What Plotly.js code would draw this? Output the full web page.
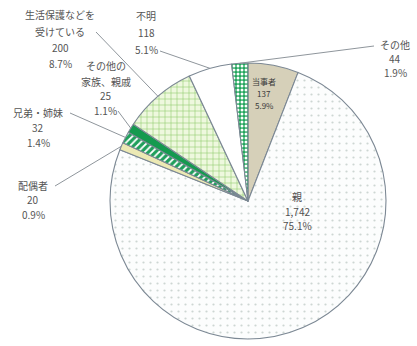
<!DOCTYPE html>
<html>
<head>
<meta charset="utf-8">
<script src="https://cdn.plot.ly/plotly-3.0.1.min.js"></script>
<style>
html,body{margin:0;padding:0;background:#fff;}
#chart{width:417px;height:346px;}
</style>
</head>
<body>
<div id="chart"></div>
<script>
// ---- data (clockwise from 12 o'clock) ----
const categories = ['当事者','親','配偶者','兄弟・姉妹','その他の家族、親戚','生活保護などを受けている','不明','その他'];
const values = [137, 1742, 20, 32, 25, 200, 118, 44];
const valueLabels = ['137', '1,742', '20', '32', '25', '200', '118', '44'];
const pctLabels = ['5.9%', '75.1%', '0.9%', '1.4%', '1.1%', '8.7%', '5.1%', '1.9%'];
const nameLines = [['当事者'], ['親'], ['配偶者'], ['兄弟・姉妹'], ['その他の','家族、親戚'], ['生活保護などを','受けている'], ['不明'], ['その他']];

// ---- styles ----
const W = 417, H = 346;
const CX = 248, CY = 201, R = 138;
const bg = ['#d6d0b9', '#fcfdfd', '#ece9b4', '#1f9f5b', '#159a4f', '#eef8de', '#ffffff', '#22a55c'];
const fg = ['#d6d0b9', '#cdd6d3', '#ece9b4', '#ffffff', '#159a4f', '#8dc96a', '#ffffff', '#ffffff'];
const shapes = ['', '.', '', '/', '', '+', '', '.'];
const psize = [6, 7, 6, 5, 6, 6, 6, 4];
const psolid = [0.3, 0.08, 0.3, 0.35, 0.3, 0.18, 0.3, 0.45];

// label placement (pixels): centre x, first-line y, line spacing, font size, leader start (or null)
const labelPos = [
  {x:264, y:82,  dy:11.5, fs:8,  lead:null, color:'#3a3a3a'},
  {x:297, y:196, dy:15,   fs:10, lead:null, color:'#505050'},
  {x:33,  y:185, dy:14.5, fs:10, lead:[55,186]},
  {x:38,  y:112, dy:15,   fs:10, lead:[70,113]},
  {x:106, y:66,  dy:15,   fs:10, lead:[118,111]},
  {x:60,  y:15,  dy:16,   fs:10, lead:[96,32]},
  {x:146, y:16,  dy:16.5, fs:10, lead:[160,51]},
  {x:395, y:45,  dy:13.5, fs:10, lead:[374,46]}
];

const px = x => x / W;
const py = y => 1 - y / H;

const trace = {
  type: 'pie',
  labels: categories,
  values: values,
  sort: false,
  direction: 'clockwise',
  rotation: 0,
  textinfo: 'none',
  hoverinfo: 'none',
  domain: {x: [px(CX - R), px(CX + R)], y: [py(CY + R), py(CY - R)]},
  marker: {
    colors: bg,
    line: {color: '#7c8894', width: 1.1},
    pattern: {shape: shapes, bgcolor: bg, fgcolor: fg, size: psize, solidity: psolid, fillmode: 'replace'}
  }
};

// angles from data
const total = values.reduce((a, b) => a + b, 0);
let cum = 0;
const annotations = [];
const lines = [];
values.forEach((v, i) => {
  const mid = (cum + v / 2) / total * 2 * Math.PI;
  cum += v;
  const rimX = CX + R * Math.sin(mid);
  const rimY = CY - R * Math.cos(mid);
  const p = labelPos[i];
  const textLines = nameLines[i].concat([valueLabels[i], pctLabels[i]]);
  textLines.forEach((t, k) => {
    annotations.push({
      xref: 'paper', yref: 'paper', x: px(p.x), y: py(p.y + k * p.dy),
      xanchor: 'center', yanchor: 'middle', showarrow: false, text: t,
      font: {family: '"Noto Sans CJK JP", sans-serif', size: p.fs, color: p.color || '#555555'}
    });
  });
  if (p.lead) {
    lines.push({
      type: 'line', xref: 'paper', yref: 'paper', layer: 'above',
      x0: px(p.lead[0]), y0: py(p.lead[1]), x1: px(rimX), y1: py(rimY),
      line: {color: '#8f969c', width: 1}
    });
  }
});

const layout = {
  width: W, height: H,
  margin: {l: 0, r: 0, t: 0, b: 0},
  paper_bgcolor: '#ffffff',
  showlegend: false,
  annotations: annotations,
  shapes: lines
};

Plotly.newPlot('chart', [trace], layout, {displayModeBar: false, staticPlot: true});
</script>
</body>
</html>
